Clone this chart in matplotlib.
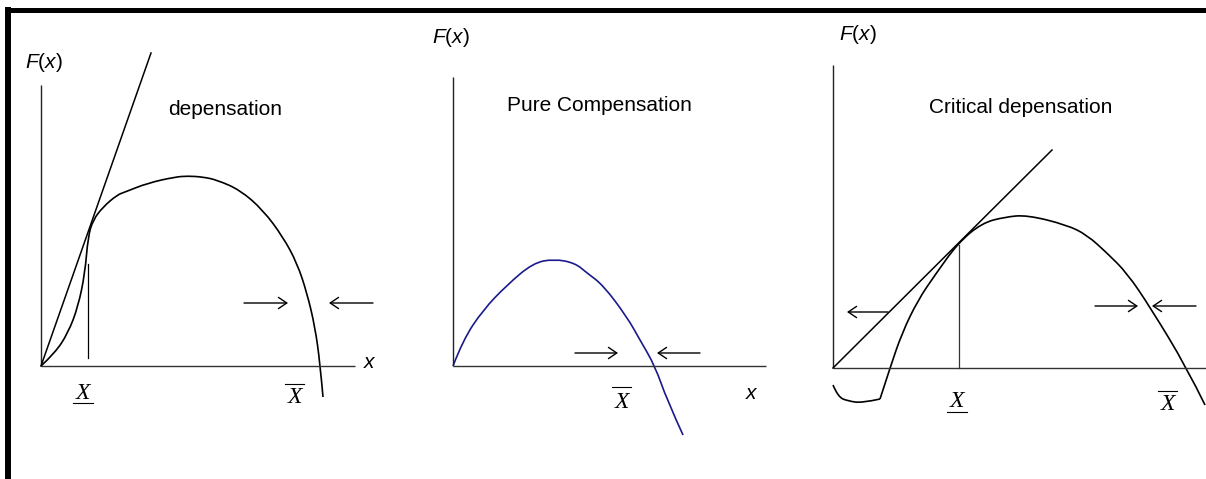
import matplotlib
matplotlib.use("Agg")
import matplotlib.pyplot as plt
from matplotlib.lines import Line2D
from matplotlib.patches import FancyArrowPatch, PathPatch
from matplotlib.path import Path

plt.rcParams['font.family'] = ['Liberation Sans', 'DejaVu Sans']
plt.rcParams['mathtext.fontset'] = 'custom'
plt.rcParams['mathtext.it'] = 'Liberation Sans:italic'
plt.rcParams['mathtext.rm'] = 'Liberation Sans'

W, H = 1206, 479

# ---- data (local units: origin at the axes crossing, y up) ----
# panel 1: depensation
dep_x = [0, 14, 27, 37, 44, 47, 52, 62, 76, 84, 107, 134, 147, 162, 176, 199, 222, 242, 256, 266, 274, 279, 282]
dep_y = [0, 13, 33, 59, 93, 129, 146, 159, 171, 174, 183, 189, 190, 189, 186, 176, 156, 129, 103, 73, 39, 3, -31]
dep_tan_x = [0, 110]
dep_tan_y = [0, 313]
dep_low = 47          # lower equilibrium
dep_low_y = [8, 102]

# panel 2: pure compensation
pc_x = [0, 10, 30, 54, 80, 101, 122, 134, 150, 174, 187, 202, 214, 230]
pc_y = [0, 26, 56, 81, 103, 107, 103, 93, 81, 49, 26, 0, -34, -69]

# panel 3: critical depensation (dip below zero, then the hump)
cd_dip_x = [0, 5, 15, 29, 47]
cd_dip_y = [-17, -29, -33, -35, -31]
cd_x = [47, 57, 69, 85, 102, 125, 149, 172, 194, 234, 254, 274, 294, 317, 354, 372]
cd_y = [-31, 0, 35, 68, 93, 125, 145, 151, 153, 143, 133, 115, 95, 61, 0, -37]
cd_tan_x = [0, 219]
cd_tan_y = [0, 218]
cd_low = 126
cd_low_y = [0, 123]

panels = [
    # pixel region (left, right), origin in pixels, axis lengths
    dict(region=(12, 400), origin=(41, 366), xlen=314, ylen=281),
    dict(region=(400, 800), origin=(453, 366), xlen=313, ylen=289),
    dict(region=(800, 1206), origin=(833, 368), xlen=420, ylen=303),
]

fig = plt.figure(figsize=(W / 100, H / 100), dpi=100)


def make_ax(p):
    l, r = p['region']
    ox, oy = p['origin']
    ax = fig.add_axes([l / W, 0, (r - l) / W, 1])
    ax.set_xlim(l - ox, r - ox)
    ax.set_ylim(oy - H, oy)
    ax.axis('off')
    ax.plot([0, 0], [0, p['ylen']], color='#222222', lw=1.0, solid_capstyle='butt')
    ax.plot([0, p['xlen']], [0, 0], color='#333333', lw=1.0, solid_capstyle='butt')
    return ax


def smooth(ax, xs, ys, color='black', lw=1.2):
    # quadratic bezier through the midpoints, read points act as control points
    pts = list(zip(xs, ys))
    verts = [pts[0]]
    codes = [Path.MOVETO]
    for i in range(1, len(pts) - 1):
        if i == len(pts) - 2:
            end = pts[-1]
        else:
            end = ((pts[i][0] + pts[i + 1][0]) / 2, (pts[i][1] + pts[i + 1][1]) / 2)
        verts += [pts[i], end]
        codes += [Path.CURVE3, Path.CURVE3]
    ax.add_patch(PathPatch(Path(verts, codes), facecolor='none', edgecolor=color, lw=lw,
                           capstyle='butt'))


def arrow(ax, x0, x1, y):
    ax.add_patch(FancyArrowPatch((x0, y), (x1, y), arrowstyle='->,head_length=0.4,head_width=0.27',
                                 mutation_scale=15, shrinkA=0, shrinkB=0, color='black', lw=1.0))


def xmark(ax, x, y, lo, hi, ly):
    ax.text(x, y, 'X', family='Liberation Serif', style='italic', fontsize=17,
            ha='center', va='baseline')
    ax.plot([lo, hi], [ly, ly], color='black', lw=0.8)


def fx(ax, x, y):
    ax.text(x, y, '$F$($x$)', fontsize=15, ha='left', va='baseline')


# panel 1
ax1 = make_ax(panels[0])
ax1.plot(dep_tan_x, dep_tan_y, color='black', lw=1.1)
smooth(ax1, dep_x, dep_y)
ax1.plot([dep_low, dep_low], dep_low_y, color='black', lw=0.9)
arrow(ax1, 203, 247, 63)
arrow(ax1, 332, 288, 63)
fx(ax1, -16, 298)
ax1.text(322, -2, '$x$', fontsize=15, ha='left', va='baseline')
ax1.text(127, 251, 'depensation', fontsize=15, ha='left', va='baseline')
xmark(ax1, 42, -33, 32, 52, -37)
xmark(ax1, 253.5, -37, 244, 263, -18)

# panel 2
ax2 = make_ax(panels[1])
smooth(ax2, pc_x, pc_y, color='#1a1a8c')
arrow(ax2, 122, 165, 13)
arrow(ax2, 247, 204, 13)
fx(ax2, -21, 323)
ax2.text(292, -33, '$x$', fontsize=15, ha='left', va='baseline')
ax2.text(54, 255, 'Pure Compensation', fontsize=15, ha='left', va='baseline')
xmark(ax2, 168.5, -42, 159, 178, -21)

# panel 3
ax3 = make_ax(panels[2])
ax3.plot(cd_tan_x, cd_tan_y, color='black', lw=1.1)
smooth(ax3, cd_dip_x, cd_dip_y)
smooth(ax3, cd_x, cd_y)
ax3.plot([cd_low, cd_low], cd_low_y, color='#333333', lw=0.9)
arrow(ax3, 55, 14, 56)
arrow(ax3, 262, 305, 62)
arrow(ax3, 363, 319, 62)
fx(ax3, 6, 328)
ax3.text(96, 255, 'Critical depensation', fontsize=15, ha='left', va='baseline')
xmark(ax3, 124, -39, 114, 134, -44)
xmark(ax3, 334.5, -42, 325, 344, -23)

# outer frame (top and left edges)
fig.add_artist(Line2D([5 / W, 1], [1 - 9.5 / H, 1 - 9.5 / H], color='black', lw=3.6,
                      transform=fig.transFigure, solid_capstyle='butt'))
fig.add_artist(Line2D([8 / W, 8 / W], [0, 1 - 7 / H], color='black', lw=4.3,
                      transform=fig.transFigure, solid_capstyle='butt'))

fig.savefig('out.png', dpi=100)
